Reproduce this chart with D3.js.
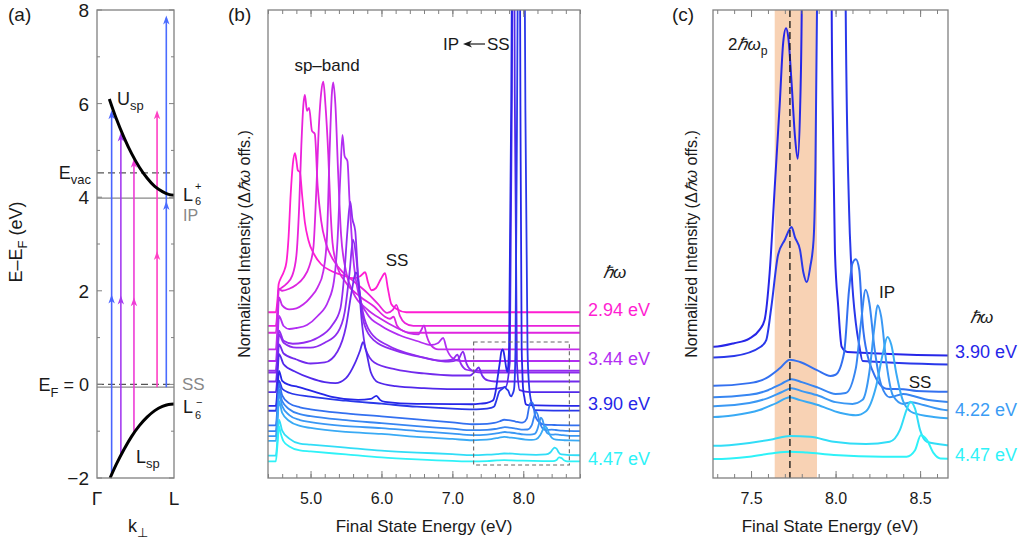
<!DOCTYPE html>
<html>
<head>
<meta charset="utf-8">
<script src="https://cdn.jsdelivr.net/npm/d3@7"></script>
<style>
body { margin: 0; background: #fff; }
svg { display: block; font-family: "Liberation Sans", Arial, Helvetica, sans-serif; }
</style>
</head>
<body>
<svg id="fig" width="1021" height="543"></svg>
<script>
// ---------- panel (a): band picture ----------
const uspK = [0.16, 0.25, 0.35, 0.45, 0.55, 0.65, 0.75, 0.85, 0.93, 1.0];
const uspE = [6.10, 5.68, 5.28, 4.93, 4.64, 4.41, 4.23, 4.12, 4.06, 4.04];
const lspK = [0.17, 0.25, 0.35, 0.45, 0.55, 0.65, 0.75, 0.85, 0.93, 1.0];
const lspE = [-2.0, -1.71, -1.39, -1.11, -0.88, -0.70, -0.56, -0.47, -0.43, -0.42];
const levelE = [4.52, 3.98, 0.0, -0.06];          // E_vac, IP, E_F, SS
const levelDashed = [true, false, true, false];
const arrowK = [0.19, 0.31, 0.48, 0.78, 0.90];
const arrowStart = [-1.92, -1.50, -1.06, -0.06, -0.06];
const arrowMid = [1.92, 1.90, 1.86, 2.85, 3.92];
const arrowEnd = [5.86, 5.38, 4.82, 5.86, 7.88];
const arrowColor = ["#4a64ff", "#a63cf0", "#ee3cd6", "#ff40c4", "#4a6cff"];
const ticksA = [8, 6, 4, 2, -2];

// ---------- panels (b),(c): spectra [E (eV), intensity] ----------
const hvB = [2.94, 3.08, 3.15, 3.32, 3.44, 3.54, 3.56, 3.65, 3.76, 3.90, 3.95, 4.10, 4.16, 4.21, 4.26, 4.41, 4.47];

const s294 = [[4.40,0],[4.51,0],[4.535,14],[4.55,28],[4.58,34],[4.62,40],[4.66,50],[4.69,75],[4.72,118],[4.75,148],[4.78,159],[4.80,152],[4.82,142],[4.85,140],[4.88,118],[4.92,90],[4.97,72],[5.05,58],[5.15,48],[5.30,41],[5.45,37],[5.60,34],[5.70,36],[5.77,40],[5.81,30],[5.86,22],[5.92,24],[5.99,33],[6.05,39],[6.09,24],[6.14,8],[6.22,3],[6.35,0],[8.80,0]];
const s308 = [[4.40,0],[4.51,0],[4.535,18],[4.55,36],[4.59,38],[4.66,42],[4.74,50],[4.80,70],[4.84,120],[4.87,180],[4.90,222],[4.92,231],[4.95,215],[4.98,218],[5.02,195],[5.06,192],[5.10,140],[5.15,105],[5.22,82],[5.32,66],[5.45,54],[5.60,45],[5.80,33],[5.95,22],[6.08,13],[6.16,16],[6.21,21],[6.26,10],[6.33,3],[6.45,0],[8.80,0]];
const s315 = [[4.40,0],[4.51,0],[4.535,22],[4.55,44],[4.60,42],[4.70,44],[4.80,48],[4.90,55],[4.98,66],[5.04,85],[5.08,140],[5.12,210],[5.15,240],[5.18,251],[5.21,228],[5.25,178],[5.28,125],[5.31,90],[5.37,68],[5.50,50],[5.70,36],[5.90,26],[6.05,16],[6.12,14],[6.17,16],[6.22,7],[6.30,2],[6.40,0],[8.80,0]];
const s332 = [[4.40,0],[4.51,0],[4.535,25],[4.555,52],[4.60,44],[4.70,40],[4.80,41],[4.90,45],[5.00,52],[5.10,62],[5.18,78],[5.23,110],[5.27,200],[5.30,255],[5.32,267],[5.35,245],[5.39,175],[5.43,115],[5.50,78],[5.60,57],[5.80,40],[6.00,30],[6.20,22],[6.40,16],[6.52,15],[6.56,19],[6.60,24],[6.64,13],[6.70,4],[6.80,0],[8.80,0]];
const s344 = [[4.40,0],[4.51,0],[4.535,22],[4.555,45],[4.62,35],[4.70,32],[4.80,33],[4.95,36],[5.10,45],[5.25,60],[5.33,80],[5.38,120],[5.42,185],[5.45,226],[5.48,205],[5.52,200],[5.55,160],[5.60,105],[5.68,66],[5.80,47],[6.00,35],[6.25,26],[6.50,20],[6.70,16],[6.80,18],[6.87,23],[6.92,12],[7.00,3],[7.10,0],[8.80,0]];
const s354 = [[4.40,0],[4.51,0],[4.535,20],[4.555,40],[4.62,30],[4.75,27],[4.90,28],[5.10,33],[5.30,45],[5.42,62],[5.48,100],[5.52,140],[5.56,169],[5.59,152],[5.63,140],[5.67,95],[5.74,58],[5.85,38],[6.10,25],[6.50,15],[6.85,10],[7.00,11],[7.07,16],[7.12,7],[7.20,1],[7.30,0],[8.80,0]];
const s356 = [[4.40,0],[4.51,0],[4.535,19],[4.555,38],[4.62,30],[4.80,25],[5.00,25],[5.20,30],[5.38,40],[5.48,60],[5.55,100],[5.60,133],[5.64,118],[5.69,80],[5.76,48],[5.90,32],[6.20,22],[6.60,15],[6.95,11],[7.08,13],[7.15,21],[7.20,9],[7.28,2],[7.40,0],[8.80,0]];
const s365 = [[4.40,0],[4.51,0],[4.535,18],[4.555,37],[4.62,28],[4.80,22],[5.00,18],[5.20,19],[5.38,30],[5.50,55],[5.58,90],[5.64,109],[5.68,96],[5.72,62],[5.78,32],[5.90,19],[6.20,12],[6.60,8],[7.00,6],[7.25,6],[7.32,10],[7.37,14],[7.42,6],[7.50,1],[7.60,0],[8.80,0]];
const s376 = [[4.40,0],[4.51,0],[4.535,19],[4.555,38],[4.62,28],[4.80,20],[5.00,14],[5.20,10],[5.35,9],[5.50,14],[5.62,28],[5.70,42],[5.74,50],[5.78,42],[5.85,20],[5.95,10],[6.20,6],[6.60,4],[7.00,3],[7.50,3],[7.75,5],[7.81,30],[7.84,300],[7.86,700],[7.88,300],[7.91,30],[7.95,2],[8.10,0],[8.80,0]];
const s390 = [[4.40,0],[4.51,0],[4.535,18],[4.555,35],[4.60,25],[4.70,21],[4.82,19],[5.06,14],[5.30,9],[5.67,6],[5.85,7],[5.93,10],[5.98,6],[6.05,4],[6.50,2],[7.00,1.8],[7.28,1.6],[7.40,2.2],[7.49,3.0],[7.55,4.5],[7.58,6.2],[7.61,14.3],[7.64,29],[7.67,43.6],[7.69,54],[7.707,56.5],[7.72,55],[7.74,47],[7.76,37.8],[7.776,34],[7.79,42.4],[7.80,60],[7.83,300],[7.86,700],[7.90,900],[7.94,700],[7.96,300],[7.977,60],[7.986,36.7],[7.996,18.3],[8.016,8.4],[8.036,1.6],[8.07,0.7],[8.80,0]];
const s395 = [[4.40,0],[4.51,0],[4.535,15],[4.555,30],[4.60,22],[4.70,18],[5.00,14],[5.50,10],[6.00,7],[6.50,4],[7.00,2],[7.28,1.3],[7.40,1.55],[7.56,3.2],[7.59,4.3],[7.62,10],[7.66,19],[7.70,21.6],[7.74,23.8],[7.76,22],[7.79,19.8],[7.81,15.9],[7.83,14.3],[7.85,16.9],[7.87,21.6],[7.88,32.4],[7.89,61],[7.92,400],[7.96,900],[8.00,700],[8.03,300],[8.06,61],[8.08,26.7],[8.095,15.9],[8.12,7.2],[8.14,3.4],[8.16,0.7],[8.80,0]];
const s410 = [[4.40,0],[4.51,0],[4.535,21],[4.555,42],[4.60,30],[4.70,22],[4.85,18],[5.00,16],[5.50,12],[6.00,9],[6.50,6],[7.00,3],[7.28,1.1],[7.49,1.55],[7.59,2.4],[7.67,4.1],[7.73,5.6],[7.79,5.2],[7.89,3.8],[7.97,2.8],[8.00,3.0],[8.05,6.7],[8.08,17.7],[8.10,22.2],[8.12,22.9],[8.14,21.1],[8.16,11.9],[8.19,6.2],[8.22,3.6],[8.30,0.6],[8.40,0.5],[8.48,0.2],[8.80,0]];
const s416 = [[4.40,0],[4.51,0],[4.535,21],[4.555,42],[4.60,30],[4.70,22],[4.85,17],[5.00,15],[5.50,11],[6.00,8],[6.50,5],[7.00,2.5],[7.28,1.0],[7.49,1.4],[7.60,2.2],[7.68,3.3],[7.74,4.1],[7.80,3.6],[7.90,2.6],[8.00,1.55],[8.06,1.7],[8.12,6.0],[8.15,13.8],[8.178,19.5],[8.20,17.2],[8.23,9.5],[8.27,3.1],[8.32,1.0],[8.40,1.55],[8.46,1.2],[8.55,0.5],[8.80,0]];
const s421 = [[4.40,0],[4.51,0],[4.535,21],[4.555,42],[4.60,30],[4.70,21],[4.85,16],[5.00,14],[5.50,10],[6.00,8],[6.50,5],[7.00,2.5],[7.28,1.0],[7.49,1.55],[7.60,2.4],[7.68,3.4],[7.74,4.1],[7.80,3.6],[7.90,2.8],[8.00,1.7],[8.10,1.4],[8.16,2.1],[8.20,6.9],[8.23,14.7],[8.248,18.4],[8.27,16.4],[8.30,8.6],[8.34,2.8],[8.40,1.4],[8.45,1.7],[8.52,1.2],[8.66,0.3],[8.80,0.2]];
const s426 = [[4.40,0],[4.51,0],[4.535,20],[4.555,40],[4.60,28],[4.70,20],[4.85,15],[5.00,13],[5.50,9],[6.00,7],[6.50,4],[7.00,2],[7.28,0.7],[7.40,1.0],[7.55,1.9],[7.65,3.1],[7.73,4.1],[7.79,3.6],[7.89,2.8],[8.03,1.4],[8.12,1.0],[8.18,1.7],[8.24,6.0],[8.28,11.7],[8.307,14.5],[8.33,13.1],[8.36,8.1],[8.40,3.4],[8.46,1.4],[8.58,0.7],[8.66,0.5],[8.80,0.4]];
const s441 = [[4.40,0],[4.51,0],[4.535,18],[4.555,36],[4.60,25],[4.70,17],[4.85,12],[5.00,11],[5.50,8],[6.00,5],[6.50,3],[7.00,1.5],[7.28,0.4],[7.49,0.9],[7.63,1.55],[7.73,2.1],[7.85,1.95],[7.99,1.1],[8.18,0.7],[8.32,1.1],[8.38,3.1],[8.42,6.6],[8.443,8.0],[8.47,6.8],[8.50,3.1],[8.54,1.1],[8.665,0.5],[8.80,0.3]];
const s447 = [[4.40,0],[4.51,0],[4.535,18],[4.555,35],[4.58,28],[4.62,20],[4.70,15],[4.85,11],[5.00,10],[5.50,7],[6.00,4],[6.50,2],[7.00,0.5],[7.28,0],[7.49,0.4],[7.63,1.0],[7.73,1.25],[7.83,1.1],[7.99,0.7],[8.28,0.4],[8.42,0.4],[8.47,1.5],[8.504,4.1],[8.54,3.3],[8.58,1.0],[8.62,0.1],[8.80,0]];
const spectra = [s294, s308, s315, s332, s344, s354, s356, s365, s376, s390, s395, s410, s416, s421, s426, s441, s447];

const labelHvB = [2.94, 3.44, 3.90, 4.47];
const labelHvC = [3.90, 4.22, 4.47];
const ticksMajorB = [5, 6, 7, 8];
const ticksMajorC = [7.5, 8.0, 8.5];
const zoomBoxE = [7.30, 8.65];
const zoomBoxI = [13, 136];
const plasmonBand = [7.64, 7.89];
const plasmon2 = 7.73;

const colorStops = [2.94, 3.44, 3.90, 4.22, 4.47];
const colorRange = ["#ff1ed2", "#b22ef2", "#2626e8", "#3b9cf4", "#2ef2f8"];
const color = d3.scaleLinear().domain(colorStops).range(colorRange).interpolate(d3.interpolateRgb);

const ink = "#1a1a1a", frameCol = "#808080";
const svg = d3.select("#fig");

function rich(g, x, y, parts, size, anchor, fill) {
  const t = g.append("text").attr("x", x).attr("y", y).attr("font-size", size)
    .attr("text-anchor", anchor || "start").attr("fill", fill || ink);
  let shift = 0;
  parts.forEach(p => {
    const str = p[0], kind = p[1], style = p[2];
    const target = kind === "sub" ? size * 0.3 : kind === "sup" ? -size * 0.42 : 0;
    const ts = t.append("tspan").attr("dy", target - shift).text(str);
    if (kind) ts.attr("font-size", size * 0.72);
    if (style === "i") ts.attr("font-style", "italic");
    shift = target;
  });
  return t;
}

// ================= panel (a) =================
const gA = svg.append("g");
const xA = d3.scaleLinear().domain([0, 1]).range([97, 174]);
const yA = d3.scaleLinear().domain([-2, 8]).range([478, 10]);

levelE.forEach((e, i) => {
  gA.append("line").attr("x1", xA(0)).attr("x2", xA(1)).attr("y1", yA(e)).attr("y2", yA(e))
    .attr("stroke", levelDashed[i] ? "#555" : "#888").attr("stroke-width", 1.2)
    .attr("stroke-dasharray", levelDashed[i] ? "7,4" : null);
});

function head(g, x, y, c) {
  g.append("path").attr("d", "M0,0 L-3.2,9 L0,6.5 L3.2,9 Z")
    .attr("transform", `translate(${x},${y})`).attr("fill", c);
}
arrowK.forEach((k, i) => {
  const x = xA(k);
  gA.append("line").attr("x1", x).attr("x2", x).attr("y1", yA(arrowStart[i])).attr("y2", yA(arrowEnd[i]) + 3)
    .attr("stroke", arrowColor[i]).attr("stroke-width", 1.6);
  head(gA, x, yA(arrowMid[i]), arrowColor[i]);
  head(gA, x, yA(arrowEnd[i]), arrowColor[i]);
});

const bandLine = d3.line().x(d => xA(d[0])).y(d => yA(d[1])).curve(d3.curveMonotoneX);
gA.append("path").attr("d", bandLine(uspK.map((k, i) => [k, uspE[i]])))
  .attr("fill", "none").attr("stroke", "#000").attr("stroke-width", 3);
gA.append("path").attr("d", bandLine(lspK.map((k, i) => [k, lspE[i]])))
  .attr("fill", "none").attr("stroke", "#000").attr("stroke-width", 3);

gA.append("rect").attr("x", 97).attr("y", 10).attr("width", 77).attr("height", 468)
  .attr("fill", "none").attr("stroke", frameCol).attr("stroke-width", 1.3);
d3.range(-2, 8.01, 1).forEach(v => {
  const len = v % 2 === 0 ? 5 : 3;
  gA.append("line").attr("x1", 97).attr("x2", 97 + len).attr("y1", yA(v)).attr("y2", yA(v)).attr("stroke", frameCol);
  gA.append("line").attr("x1", 174 - len).attr("x2", 174).attr("y1", yA(v)).attr("y2", yA(v)).attr("stroke", frameCol);
});
ticksA.forEach(v => {
  gA.append("text").attr("x", 89).attr("y", yA(v) + 7).attr("text-anchor", "end")
    .attr("font-size", 19).attr("fill", ink).text(v < 0 ? "\u2212" + Math.abs(v) : v);
});
rich(gA, 89, yA(0) + 7, [["E"], ["F", "sub"], [" = 0"]], 18, "end");
rich(gA, 91, yA(4.52) + 6, [["E"], ["vac", "sub"]], 18, "end");
rich(gA, 117, 105, [["U"], ["sp", "sub"]], 18);
rich(gA, 136, 463, [["L"], ["sp", "sub"]], 18);
// L6+ and IP, SS and L6- stacked at the right of the frame
gA.append("text").attr("x", 183).attr("y", 201).attr("font-size", 18).attr("fill", ink).text("L");
gA.append("text").attr("x", 195).attr("y", 205).attr("font-size", 11).attr("fill", ink).text("6");
gA.append("text").attr("x", 195).attr("y", 190).attr("font-size", 11).attr("fill", ink).text("+");
gA.append("text").attr("x", 183).attr("y", 221).attr("font-size", 16).attr("fill", "#888").text("IP");
gA.append("text").attr("x", 182).attr("y", 390).attr("font-size", 17).attr("fill", "#888").text("SS");
gA.append("text").attr("x", 183).attr("y", 413).attr("font-size", 18).attr("fill", ink).text("L");
gA.append("text").attr("x", 195).attr("y", 419).attr("font-size", 11).attr("fill", ink).text("6");
gA.append("text").attr("x", 196).attr("y", 406).attr("font-size", 11).attr("fill", ink).text("\u2212");
gA.append("text").attr("x", xA(0)).attr("y", 505).attr("text-anchor", "middle").attr("font-size", 19).attr("fill", ink).text("\u0393");
gA.append("text").attr("x", xA(1)).attr("y", 505).attr("text-anchor", "middle").attr("font-size", 19).attr("fill", ink).text("L");
rich(gA, 128, 532, [["k"], ["\u22a5", "sub"]], 18);
rich(gA.append("g").attr("transform", "translate(22,242) rotate(-90)"), 0, 0,
  [["E\u2013E"], ["F", "sub"], [" (eV)"]], 18, "middle");
gA.append("text").attr("x", 8).attr("y", 21).attr("font-size", 19).attr("fill", ink).text("(a)");

// ================= shared axis helper =================
function frameTicks(g, x, x0, x1, yTop, yBot, step, majors) {
  const minors = d3.range(Math.ceil(x.domain()[0] / step) * step, x.domain()[1] + 1e-9, step);
  g.append("g").attr("transform", `translate(0,${yBot})`)
    .call(d3.axisBottom(x).tickValues(minors).tickSize(-4).tickFormat(""))
    .call(a => a.select(".domain").remove());
  g.append("g").attr("transform", `translate(0,${yTop})`)
    .call(d3.axisTop(x).tickValues(minors).tickSize(-4).tickFormat(""))
    .call(a => a.select(".domain").remove());
  const bot = g.append("g").attr("transform", `translate(0,${yBot})`)
    .call(d3.axisBottom(x).tickValues(majors).tickSize(-7).tickPadding(15).tickFormat(d3.format(".1f")));
  bot.select(".domain").remove();
  bot.selectAll("text").attr("font-size", 16).attr("fill", ink).attr("font-family", null);
  g.append("g").attr("transform", `translate(0,${yTop})`)
    .call(d3.axisTop(x).tickValues(majors).tickSize(-7).tickFormat(""))
    .call(a => a.select(".domain").remove());
  g.selectAll(".tick line").attr("stroke", frameCol);
  g.append("rect").attr("x", x0).attr("y", yTop).attr("width", x1 - x0).attr("height", yBot - yTop)
    .attr("fill", "none").attr("stroke", frameCol).attr("stroke-width", 1.3);
}

// ================= panel (b) =================
const gB = svg.append("g");
const xB = d3.scaleLinear().domain([4.4, 8.8]).range([268, 580]);
const yB = d3.scaleLinear().domain([0, 468]).range([478, 10]);
const offB = hv => 97.5 * (4.64 - hv);
svg.append("clipPath").attr("id", "clipB").append("rect").attr("x", 268).attr("y", 10).attr("width", 312).attr("height", 468);
const plotB = gB.append("g").attr("clip-path", "url(#clipB)");
spectra.forEach((s, i) => {
  const hv = hvB[i];
  const line = d3.line().x(d => xB(d[0])).y(d => yB(offB(hv) + d[1])).curve(d3.curveMonotoneX);
  plotB.append("path").attr("d", line(s)).attr("fill", "none")
    .attr("stroke", color(hv)).attr("stroke-width", 1.8).attr("stroke-linejoin", "round");
});
gB.append("rect").attr("x", xB(zoomBoxE[0])).attr("y", yB(zoomBoxI[1]))
  .attr("width", xB(zoomBoxE[1]) - xB(zoomBoxE[0])).attr("height", yB(zoomBoxI[0]) - yB(zoomBoxI[1]))
  .attr("fill", "none").attr("stroke", "#666").attr("stroke-width", 1.1).attr("stroke-dasharray", "4,3");
frameTicks(gB, xB, 268, 580, 10, 478, 0.2, ticksMajorB);

gB.append("text").attr("x", 424).attr("y", 532).attr("text-anchor", "middle").attr("font-size", 17).attr("fill", ink).text("Final State Energy (eV)");
rich(gB.append("g").attr("transform", "translate(250,244) rotate(-90)"), 0, 0,
  [["Normalized Intensity (\u0394"], ["\u210f\u03c9", "", "i"], [" offs.)"]], 16, "middle");
gB.append("text").attr("x", 228).attr("y", 21).attr("font-size", 19).attr("fill", ink).text("(b)");
gB.append("text").attr("x", 327).attr("y", 71).attr("text-anchor", "middle").attr("font-size", 17).attr("fill", ink).text("sp\u2013band");
gB.append("text").attr("x", 397).attr("y", 266).attr("text-anchor", "middle").attr("font-size", 17).attr("fill", ink).text("SS");
gB.append("text").attr("x", 443).attr("y", 50).attr("font-size", 17).attr("fill", ink).text("IP");
gB.append("line").attr("x1", 485).attr("x2", 466).attr("y1", 44).attr("y2", 44).attr("stroke", ink).attr("stroke-width", 1.2);
gB.append("path").attr("d", "M0,0 L9,-3.5 L6.5,0 L9,3.5 Z").attr("transform", "translate(463,44)").attr("fill", ink);
gB.append("text").attr("x", 487).attr("y", 50).attr("font-size", 17).attr("fill", ink).text("SS");
gB.append("text").attr("x", 603).attr("y", 278).attr("font-size", 17).attr("font-style", "italic").attr("fill", ink).text("\u210f\u03c9");
labelHvB.forEach(hv => {
  gB.append("text").attr("x", 588).attr("y", yB(offB(hv)) + 4).attr("font-size", 18)
    .attr("fill", color(hv)).text(hv.toFixed(2) + " eV");
});

// ================= panel (c) =================
const gC = svg.append("g");
const xC = d3.scaleLinear().domain([7.275, 8.665]).range([713, 948]);
const yC = d3.scaleLinear().domain([2.02, 2.02 + 468 / 5.8]).range([478, 10]);
const offC = hv => 31.16 * (4.64 - hv);
gC.append("rect").attr("x", xC(plasmonBand[0])).attr("y", 10)
  .attr("width", xC(plasmonBand[1]) - xC(plasmonBand[0])).attr("height", 468).attr("fill", "#f8d2b4");
svg.append("clipPath").attr("id", "clipC").append("rect").attr("x", 713).attr("y", 10).attr("width", 235).attr("height", 468);
const plotC = gC.append("g").attr("clip-path", "url(#clipC)");
spectra.forEach((s, i) => {
  const hv = hvB[i];
  if (hv < 3.9) return;
  const line = d3.line().x(d => xC(d[0])).y(d => yC(offC(hv) + d[1])).curve(d3.curveMonotoneX);
  plotC.append("path").attr("d", line(s.filter(d => d[0] >= 7.0))).attr("fill", "none")
    .attr("stroke", color(hv)).attr("stroke-width", 2).attr("stroke-linejoin", "round");
});
gC.append("line").attr("x1", xC(plasmon2)).attr("x2", xC(plasmon2)).attr("y1", 10).attr("y2", 478)
  .attr("stroke", "#111").attr("stroke-width", 1.3).attr("stroke-dasharray", "7,4");
frameTicks(gC, xC, 713, 948, 10, 478, 0.1, ticksMajorC);

gC.append("text").attr("x", 830).attr("y", 532).attr("text-anchor", "middle").attr("font-size", 17).attr("fill", ink).text("Final State Energy (eV)");
rich(gC.append("g").attr("transform", "translate(697,244) rotate(-90)"), 0, 0,
  [["Normalized Intensity (\u0394"], ["\u210f\u03c9", "", "i"], [" offs.)"]], 16, "middle");
gC.append("text").attr("x", 672).attr("y", 21).attr("font-size", 19).attr("fill", ink).text("(c)");
rich(gC, 728, 50, [["2"], ["\u210f\u03c9", "", "i"], ["p", "sub"]], 17);
gC.append("text").attr("x", 887).attr("y", 298).attr("text-anchor", "middle").attr("font-size", 17).attr("fill", ink).text("IP");
gC.append("text").attr("x", 920).attr("y", 388).attr("text-anchor", "middle").attr("font-size", 17).attr("fill", ink).text("SS");
gC.append("text").attr("x", 970).attr("y", 323).attr("font-size", 17).attr("font-style", "italic").attr("fill", ink).text("\u210f\u03c9");
labelHvC.forEach(hv => {
  gC.append("text").attr("x", 955).attr("y", yC(offC(hv)) + 2).attr("font-size", 18)
    .attr("fill", color(hv)).text(hv.toFixed(2) + " eV");
});
</script>
</body>
</html>
